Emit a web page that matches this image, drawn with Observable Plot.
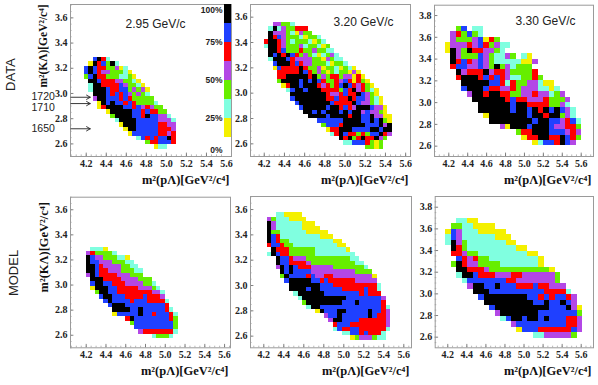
<!DOCTYPE html>
<html>
<head>
<meta charset="utf-8">
<script src="https://cdn.jsdelivr.net/npm/d3@7"></script>
<script src="https://cdn.jsdelivr.net/npm/@observablehq/plot@0.6"></script>
<style>
html,body{margin:0;padding:0;background:#fff;width:598px;height:385px;overflow:hidden}
#chart{position:relative;width:598px;height:385px}
#chart svg{position:absolute;left:0;top:0;background:transparent}
</style>
</head>
<body>
<div id="chart"></div>
<script>
// Level of each bin: 0 white, 1 yellow, 2 aquamarine, 3 green, 4 purple, 5 red, 6 blue, 7 black
const levels = [0,1,2,3,4,5,6,7];
const levelColors = ["#ffffff","#f4f000","#80ffe0","#66ee00","#b347e6","#ff0000","#1f40ff","#000000"];

// Rows run top to bottom: [first column, one digit per bin]
const data295 = [[2,"6752"],[1,"1756372"],[0,"6765533412"],[0,"67654433321"],[0,"367553332231"],[1,"776555443321"],[1,"2775555643321"],[1,"27776556634341"],[2,"7776565643432"],[2,"47766656533333"],[3,"17676656533332"],[3,"157777665645433"],[5,"17777766565533"],[6,"37777665766442"],[7,"27777666664442"],[8,"1777666665544"],[9,"177666665554"],[10,"16666665545"],[12,"265656675"],[14,"3556665"],[16,"122"]];
const data320 = [[2,"44332"],[1,"272433555"],[1,"7444321433"],[1,"756433321332"],[0,"57754323332132"],[0,"277543334233213"],[1,"775633353343322"],[1,"7675765343212342"],[1,"27776544443314322"],[2,"67775654433321332"],[2,"1655557533413321321"],[3,"5555576534313233141"],[3,"55777775734355344151"],[3,"377776767653354651531"],[4,"157767775453567654531"],[5,"267767775555365745321"],[6,"77777777544565576431"],[6,"677777775565575664321"],[7,"67777777655557644321"],[8,"67777767756547776441"],[9,"7767677767677464431"],[10,"7777677775776674411"],[12,"66666677776676731"],[13,"3666577777666747"],[14,"155777666677677"],[15,"25765535366754"],[17,"75735755743"],[18,"226665313"],[23,"3313"]];
const data330 = [[2,"36022"],[1,"453632"],[1,"433346153"],[0,"144454653422"],[0,"17437554432"],[1,"743336432243021"],[1,"7565464322222114"],[1,"566446437342333"],[2,"745557455433335"],[2,"5777565654223353"],[3,"77777665253344211"],[3,"677765544534442212"],[4,"477577553344544234"],[5,"777777565544453334"],[6,"77777767755553342"],[6,"777777677675767642"],[7,"17777777677577342"],[8,"77777777677664562"],[10,"417776777644553"],[13,"355777666454"],[14,"15577557653"],[16,"12665764"]];
const model295 = [[1,"2221"],[0,"4533332"],[0,"7644333221"],[0,"76644433322"],[0,"776544443322"],[0,"7765544433322"],[0,"4765555444333"],[1,"77755554444333"],[1,"677665554444332"],[1,"1777665555544432"],[2,"3776655555555442"],[3,"677666555565554"],[4,"676666566655552"],[5,"67776666666665"],[6,"77776676666652"],[6,"166666766566652"],[9,"576666666653"],[10,"36666666663"],[11,"6666666663"],[12,"455555552"],[15,"23332"]];
const model320 = [[2,"221111"],[0,"432221111"],[0,"74222222111"],[0,"742222221111"],[0,"73322222211111"],[0,"765222222222111"],[0,"76533222222222211"],[0,"566533222222222211"],[1,"755533333322222221"],[0,"27655333333222222222"],[2,"7665444333333333322"],[2,"76655554333333333322"],[2,"476765554444433333332"],[3,"767666644444444443333"],[3,"3766665644554444444441"],[4,"677777665655555544444"],[5,"777777766655555555552"],[5,"777767766666555556552"],[6,"27777776666666656555"],[7,"27777777777666666664"],[8,"3777777776667666665"],[9,"2776666666666666652"],[11,"17666776666676654"],[13,"466766666676554"],[14,"47766665555554"],[15,"5666555555554"],[15,"2655665555552"],[17,"2266565552"],[19,"13444322"]];
const model330 = [[2,"2211"],[1,"33221111"],[0,"16422211111"],[0,"264222222111"],[0,"2743222222211"],[1,"75322222222211"],[1,"5543322222222211"],[2,"6545332222222221"],[1,"37544333322222221"],[2,"775554333333333331"],[2,"2776555444554444443"],[3,"266666665544444443"],[4,"477667666555655444"],[5,"777666666666655552"],[6,"677777777665656654"],[7,"77777777766766764"],[8,"67777777777666741"],[9,"4777777766666663"],[10,"267767767666554"],[12,"4666666666554"],[13,"166655555564"],[16,"22444443"]];

const momenta = ["2.95 GeV/c","3.20 GeV/c","3.30 GeV/c"];
const rowTitles = ["DATA","MODEL"];
const xAxisLabel = "m²(pΛ)[GeV²/c⁴]";
const yAxisLabel = "m²(KΛ)[GeV²/c⁴]";
const xTicks = [4.2,4.4,4.6,4.8,5.0,5.2,5.4,5.6];
const yTicksShort = [2.6,2.8,3.0,3.2,3.4,3.6];
const yTicksTall = [2.6,2.8,3.0,3.2,3.4,3.6,3.8];
const resonances = ["1720","1710","1650"];
const resonanceArrowY = [2.97,2.92,2.72];
const resonanceTextY = [2.975,2.888,2.72];
const barEdges = [0,12.5,25,37.5,50,62.5,75,87.5,100];
const barLabels = ["0%","25%","50%","75%","100%"];
const barLabelAt = [4,25,50,75,96.5];

const serif = "'Liberation Serif', serif";
const sans = "'Liberation Sans', sans-serif";
const frameGray = "#9a9a9a";

const panels = [
  {rows:data295, x0:4.183,y0:3.287,dx:.0436,dy:.0347, xd:[4.043,5.65], yd:[2.5,3.706], box:[70,231,4,156], yt:yTicksShort, title:momenta[0], tx:155, ty:24, row:0, first:true},
  {rows:data320, x0:4.200,y0:3.560,dx:.0437,dy:.0347, xd:[4.064,5.648],yd:[2.5,3.70],  box:[250,410,4,156], yt:yTicksShort, title:momenta[1], tx:363, ty:22},
  {rows:data330, x0:4.165,y0:3.700,dx:.0577,dy:.0499, xd:[4.049,5.73], yd:[2.505,3.895],box:[434,593,4.7,156], yt:yTicksTall, title:momenta[2], tx:545, ty:21},
  {rows:model295,x0:4.203,y0:3.303,dx:.0442,dy:.0347, xd:[4.041,5.66], yd:[2.5,3.70],  box:[70,230,196.7,347.3], yt:yTicksShort, row:1, first:true},
  {rows:model320,x0:4.234,y0:3.574,dx:.0440,dy:.0347, xd:[4.067,5.677],yd:[2.508,3.703],box:[250,411,196,347.3], yt:yTicksShort},
  {rows:model330,x0:4.180,y0:3.696,dx:.0574,dy:.0502, xd:[4.068,5.729],yd:[2.502,3.899],box:[434.7,593,196,347.3], yt:yTicksTall}
];

function cellsOf(p){
  const out=[];
  p.rows.forEach(([start,digits],r)=>{
    [...digits].forEach((ch,i)=>{
      const c=start+i;
      if(ch==="0") return;
      out.push({x1:p.x0+c*p.dx,x2:p.x0+(c+1)*p.dx,y1:p.y0-(r+1)*p.dy,y2:p.y0-r*p.dy,level:+ch});
    });
  });
  return out;
}

const chart=document.getElementById("chart");
for(const p of panels){
  const [l,r,t,b]=p.box;
  const w=r-l,h=b-t;
  const xMinor=d3.range(Math.ceil(p.xd[0]/.05),Math.floor(p.xd[1]/.05)+1).map(d=>d*.05);
  const yMinor=d3.range(Math.ceil(p.yd[0]/.05),Math.floor(p.yd[1]/.05)+1).map(d=>d*.05);
  const marks=[
    Plot.rect(cellsOf(p),{x1:"x1",x2:"x2",y1:"y1",y2:"y2",fill:"level",inset:0,shapeRendering:"crispEdges"}),
    Plot.tickX(xMinor,{x:d=>d,insetTop:h-1.6,stroke:frameGray,strokeWidth:.7}),
    Plot.tickX(xTicks,{x:d=>d,insetTop:h-3.4,stroke:"#666",strokeWidth:.8}),
    Plot.tickY(yMinor,{y:d=>d,insetRight:w-1.6,stroke:frameGray,strokeWidth:.7}),
    Plot.tickY(p.yt,{y:d=>d,insetRight:w-3.4,stroke:"#666",strokeWidth:.8}),
    Plot.frame({stroke:frameGray,strokeWidth:1}),
    Plot.axisX(xTicks,{anchor:"bottom",tickSize:0,tickPadding:3,label:null,tickFormat:d3.format(".1f"),fontFamily:serif,fontWeight:"bold",fontSize:10,fill:"#222"}),
    Plot.axisY(p.yt,{anchor:"left",tickSize:0,tickPadding:3,label:null,tickFormat:d3.format(".1f"),fontFamily:serif,fontWeight:"bold",fontSize:10,fill:"#222"}),
    Plot.text([xAxisLabel],{frameAnchor:"bottom-right",textAnchor:"end",lineAnchor:"middle",dx:-2,dy:23,fontFamily:serif,fontWeight:"bold",fontSize:12.5,fill:"#111"})
  ];
  if(p.title) marks.push(Plot.text([p.title],{frameAnchor:"top-left",textAnchor:"middle",lineAnchor:"middle",dx:p.tx-l,dy:p.ty-t,fontFamily:sans,fontSize:12,fill:"#222"}));
  if(p.first){
    marks.push(Plot.text([yAxisLabel],{frameAnchor:"top-left",textAnchor:"end",lineAnchor:"middle",rotate:-90,dx:43-l,dy:p.row===0?0:5,fontFamily:serif,fontWeight:"bold",fontSize:p.row===0?11.5:12.5,fill:"#111"}));
    marks.push(Plot.text([rowTitles[p.row]],{frameAnchor:"left",textAnchor:"middle",lineAnchor:"middle",rotate:-90,dx:(p.row===0?10:13)-l,y:[p.row===0?3.15:3.096][0],fontFamily:sans,fontSize:13,fill:"#222"}));
  }
  if(p.row===0){
    const rows=resonances.map((name,i)=>({name,ya:resonanceArrowY[i],yt:resonanceTextY[i]}));
    marks.push(Plot.arrow(rows,{x1:()=>p.xd[0]+.005,x2:()=>4.24,y1:"ya",y2:"ya",bend:0,headLength:7,stroke:"#222",strokeWidth:.9}));
    marks.push(Plot.text(rows,{x:()=>3.77,y:"yt",text:"name",textAnchor:"middle",fontFamily:sans,fontSize:10.5,fill:"#222"}));
  }
  chart.appendChild(Plot.plot({
    width:598,height:385,
    marginLeft:l,marginRight:598-r,marginTop:t,marginBottom:385-b,
    x:{domain:p.xd,axis:null},
    y:{domain:p.yd,axis:null},
    color:{type:"ordinal",domain:levels,range:levelColors},
    marks
  }));
}

// Colour scale of the first panel
const bands=levels.map(i=>({p1:barEdges[i],p2:barEdges[i+1],level:i}));
const barText=barLabels.map((t,i)=>({t,at:barLabelAt[i]}));
chart.appendChild(Plot.plot({
  width:598,height:385,
  marginLeft:224,marginRight:598-231,marginTop:4,marginBottom:385-156,
  x:{domain:[0,1],axis:null},
  y:{domain:[0,100],axis:null},
  color:{type:"ordinal",domain:levels,range:levelColors},
  marks:[
    Plot.rect(bands,{x1:()=>0,x2:()=>1,y1:"p1",y2:"p2",fill:"level",inset:0,shapeRendering:"crispEdges"}),
    Plot.text(barText,{y:"at",text:"t",frameAnchor:"left",textAnchor:"end",dx:-2,fontFamily:sans,fontWeight:"bold",fontSize:8.5,fill:"#222"})
  ]
}));
</script>
</body>
</html>
